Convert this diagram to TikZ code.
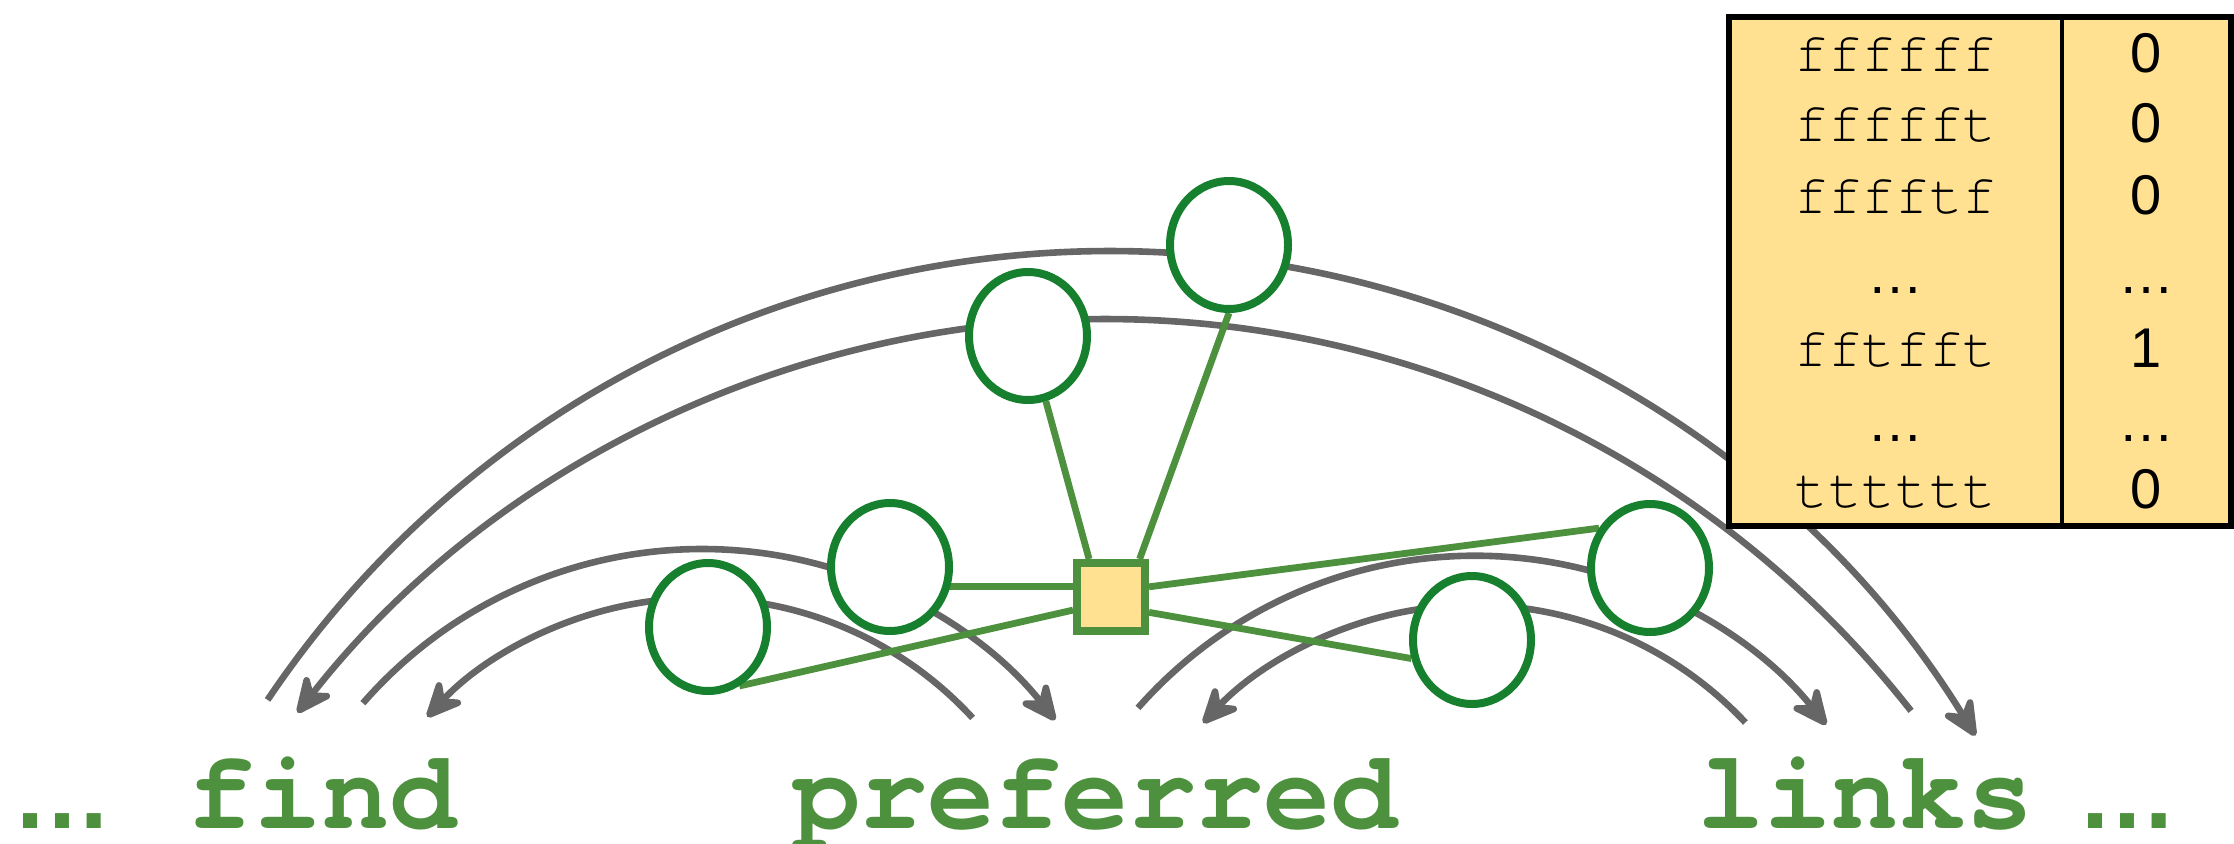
\documentclass[tikz,border=0pt]{standalone}
\usepackage{fontspec}
\newfontfamily\cursor{texgyrecursor}[Extension=.otf, UprightFont=*-regular, BoldFont=*-bold, Ligatures=NoCommon]
\newfontfamily\arial{Liberation Sans}
\usetikzlibrary{arrows.meta,shapes.geometric,backgrounds}
\definecolor{arcgray}{HTML}{666666}
\definecolor{dgreen}{HTML}{16802E}
\definecolor{lgreen}{HTML}{4D913E}
\definecolor{tyellow}{HTML}{FFE191}
\begin{document}
\begin{tikzpicture}[x=0.5pt,y=0.5pt,
 var/.style={ellipse, draw=dgreen, line width=4pt, fill=white, minimum width=59pt, minimum height=64pt, inner sep=0pt},
 factor/.style={rectangle, draw=lgreen, line width=4pt, fill=tyellow, minimum size=34pt, inner sep=0pt},
 garc/.style={draw=arcgray, line width=3.3pt, -{Stealth[length=23pt,width=21pt,inset=8pt,round]}},
 gedge/.style={draw=lgreen, line width=3.4pt},
 word/.style={text=lgreen, font=\cursor\bfseries\fontsize{56}{60}\selectfont, anchor=base, inner sep=0pt},
 dotsty/.style={text=lgreen, font=\arial\bfseries\fontsize{50}{52}\selectfont, anchor=base, inner sep=0pt},
 tmono/.style={font=\cursor\fontsize{28}{30}\selectfont, anchor=base, inner sep=0pt},
 tnum/.style={font=\arial\fontsize{28}{30}\selectfont, anchor=base, inner sep=0pt},
 tablebox/.style={draw=black, line width=2.8pt, fill=tyellow, inner sep=0pt},
]
\useasboundingbox (0,0) rectangle (2234,843);

% variable nodes
\node[var] (e1) at (1229,598) {};
\node[var] (e2) at (1028,507) {};
\node[var] (e3) at (890,276) {};
\node[var] (e4) at (708,216) {};
\node[var] (e5) at (1650,275) {};
\node[var] (e6) at (1472,203) {};
% factor
\node[factor] (sq) at (1111,246) {};

% table
\node[tablebox, minimum width=251pt, minimum height=254.5pt] (tab) at (1980,571.5) {};
\coordinate (dtop) at (2062,826);
\coordinate (dbot) at (2062,317);
\draw[line width=1.7pt] (dtop) -- (dbot);
\node[tmono] (r1) at (1895.5,771) {ffffff};
\node[tmono] (r2) at (1895.5,702) {ffffft};
\node[tmono] (r3) at (1895.5,630) {fffftf};
\node[tnum]  (r4) at (1895.5,550) {…};
\node[tmono] (r5) at (1895.5,477) {fftfft};
\node[tnum]  (r6) at (1895.5,402) {…};
\node[tmono] (r7) at (1895.5,336) {tttttt};
\node[tnum] (n1) at (2146.5,770) {0};
\node[tnum] (n2) at (2146.5,701) {0};
\node[tnum] (n3) at (2146.5,629) {0};
\node[tnum] (n4) at (2146.5,550) {…};
\node[tnum] (n5) at (2146.5,476) {1};
\node[tnum] (n6) at (2146.5,402) {…};
\node[tnum] (n7) at (2146.5,335) {0};

% words
\node[dotsty] (ldots) at (62,15) {…};
\node[word] (find) at (322,15) {find};
\node[word] (pref) at (1095.5,15) {preferred};
\node[word] (links) at (1865.5,15) {links};
\node[dotsty] (rdots) at (2127,15) {…};

\begin{scope}[on background layer]
 % big arcs
 \draw[garc] (1110,-423) ++(146.1:1015) arc[start angle=146.1, end angle=31.5, radius=1015];
 \draw[garc] (1105,-501) ++(38.15:1025) arc[start angle=38.15, end angle=141.98, radius=1025];
 % small arcs find / preferred
 \draw[garc] (702,-156) ++(138.9:450) arc[start angle=138.9, end angle=38.3, radius=450];
 \draw[garc] (699.5,-126) ++(42.6:371) arc[start angle=42.6, end angle=137.2, radius=371];
 % small arcs preferred / links
 \draw[garc] (1475,-162) ++(138.6:449.3) arc[start angle=138.6, end angle=38.6, radius=449.3];
 \draw[garc] (1474.5,-133) ++(43.1:371) arc[start angle=43.1, end angle=137, radius=371];
 % factor edges
 \draw[gedge] (sq.120) -- (e2);
 \draw[gedge] (sq.53) -- (e1.south);
 \draw[gedge] (sq.165) -- (sq.165 -| e3.center);
 \draw[gedge] (sq.199) -- (e4.-62);
 \draw[gedge] (sq.15) -- (e5.142);
 \draw[gedge] (sq.-22) -- (e6.197);
\end{scope}
\end{tikzpicture}
\end{document}
